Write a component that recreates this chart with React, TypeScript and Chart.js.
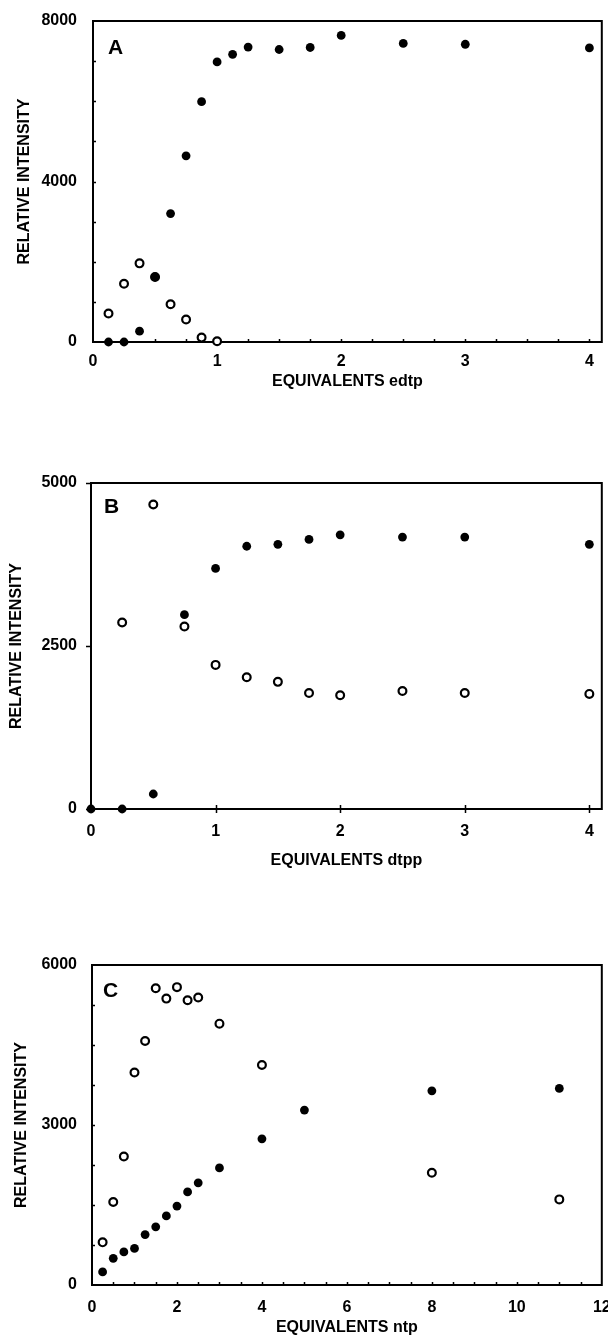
import React, { useEffect, useRef } from "react";
import { Chart, registerables } from "chart.js";

Chart.register(...registerables);

const FONT = '"Liberation Sans", Arial, Helvetica, sans-serif';

// ---------- Panel A (edtp) ----------
const aXTicks = [0, 1, 2, 3, 4];
const aYTicks = [0, 4000, 8000];
const aFilledX = [0.125, 0.25, 0.375, 0.5, 0.625, 0.75, 0.875, 1, 1.125, 1.25, 1.5, 1.75, 2, 2.5, 3, 4];
const aFilledY = [0, 0, 270, 1620, 3200, 4640, 5990, 6980, 7170, 7350, 7290, 7340, 7640, 7440, 7420, 7330];
const aOpenX = [0.125, 0.25, 0.375, 0.5, 0.625, 0.75, 0.875, 1];
const aOpenY = [710, 1450, 1960, 1620, 940, 560, 110, 20];

// ---------- Panel B (dtpp) ----------
const bXTicks = [0, 1, 2, 3, 4];
const bYTicks = [0, 2500, 5000];
const bFilledX = [0, 0.25, 0.5, 0.75, 1, 1.25, 1.5, 1.75, 2, 2.5, 3, 4];
const bFilledY = [0, 0, 230, 2980, 3690, 4030, 4060, 4135, 4205, 4170, 4170, 4060];
const bOpenX = [0.25, 0.5, 0.75, 1, 1.25, 1.5, 1.75, 2, 2.5, 3, 4];
const bOpenY = [2860, 4670, 2800, 2210, 2020, 1950, 1780, 1745, 1810, 1780, 1765];

// ---------- Panel C (ntp) ----------
const cXTicks = [0, 2, 4, 6, 8, 10, 12];
const cYTicks = [0, 3000, 6000];
const cFilledX = [0.25, 0.5, 0.75, 1, 1.25, 1.5, 1.75, 2, 2.25, 2.5, 3, 4, 5, 8, 11];
const cFilledY = [245, 500, 620, 685, 945, 1090, 1295, 1480, 1745, 1915, 2195, 2740, 3280, 3640, 3685];
const cOpenX = [0.25, 0.5, 0.75, 1, 1.25, 1.5, 1.75, 2, 2.25, 2.5, 3, 4, 8, 11];
const cOpenY = [800, 1555, 2410, 3985, 4575, 5565, 5370, 5585, 5340, 5390, 4900, 4125, 2105, 1605];

const Y_TITLE = "RELATIVE INTENSITY";

type Spec = {
  letter: string;
  top: number;
  height: number;
  padTop: number;
  padRight: number;
  yWidth: number;
  xHeight: number;
  xMax: number;
  yMax: number;
  xTicks: number[];
  yTicks: number[];
  xTitle: string;
  xLabelPad: number;
  xTitlePad: number;
  yLabelPad: number;
  yTitlePad: number;
  filledX: number[];
  filledY: number[];
  openX: number[];
  openY: number[];
  xStep: number;
  yStep: number;
  xMode: string;
  yMode: string;
  letterOff: [number, number];
};

const panels: Spec[] = [
  {
    letter: "A", top: 0, height: 400, padTop: 21, padRight: 3, yWidth: 93, xHeight: 58,
    xMax: 4.1, yMax: 8000, xTicks: aXTicks, yTicks: aYTicks, xTitle: "EQUIVALENTS edtp",
    xLabelPad: 10, xTitlePad: 9, yLabelPad: 16, yTitlePad: 15,
    filledX: aFilledX, filledY: aFilledY, openX: aOpenX, openY: aOpenY,
    xStep: 0.25, yStep: 1000, xMode: "in", yMode: "in", letterOff: [15, 33],
  },
  {
    letter: "B", top: 430, height: 450, padTop: 53, padRight: 2, yWidth: 91, xHeight: 71,
    xMax: 4.1, yMax: 5000, xTicks: bXTicks, yTicks: bYTicks, xTitle: "EQUIVALENTS dtpp",
    xLabelPad: 13, xTitlePad: 10, yLabelPad: 14, yTitlePad: 7,
    filledX: bFilledX, filledY: bFilledY, openX: bOpenX, openY: bOpenY,
    xStep: 1, yStep: 2500, xMode: "cross", yMode: "out", letterOff: [13, 30],
  },
  {
    letter: "C", top: 930, height: 407, padTop: 35, padRight: 5, yWidth: 92, xHeight: 52,
    xMax: 12, yMax: 6000, xTicks: cXTicks, yTicks: cYTicks, xTitle: "EQUIVALENTS ntp",
    xLabelPad: 13, xTitlePad: 0, yLabelPad: 15, yTitlePad: 12,
    filledX: cFilledX, filledY: cFilledY, openX: cOpenX, openY: cOpenY,
    xStep: 0.5, yStep: 750, xMode: "in", yMode: "in", letterOff: [11, 32],
  },
];

const framePlugin = {
  id: "frame",
  beforeDatasetsDraw(chart: any, _args: any, opts: any) {
    const { ctx, chartArea } = chart;
    const { left, right, top, bottom } = chartArea;
    const xs = chart.scales.x;
    const ys = chart.scales.y;
    ctx.save();
    ctx.strokeStyle = "#000";
    ctx.lineWidth = 2;
    ctx.strokeRect(left, top, right - left, bottom - top);
    ctx.lineWidth = 1.5;
    ctx.beginPath();
    for (let v = opts.xStep; v < xs.max - 1e-9; v += opts.xStep) {
      const px = Math.round(xs.getPixelForValue(v)) + 0.5;
      if (opts.xMode === "cross") {
        ctx.moveTo(px, bottom - 4);
        ctx.lineTo(px, bottom + 4);
      } else {
        ctx.moveTo(px, bottom);
        ctx.lineTo(px, bottom - 3);
      }
    }
    for (let v = 0; v <= ys.max + 1e-9; v += opts.yStep) {
      const py = Math.round(ys.getPixelForValue(v)) + 0.5;
      if (opts.yMode === "out") {
        ctx.moveTo(left, py);
        ctx.lineTo(left - 5, py);
      } else if (v > 0 && v < ys.max) {
        ctx.moveTo(left, py);
        ctx.lineTo(left + 3, py);
      }
    }
    ctx.stroke();
    ctx.fillStyle = "#000";
    ctx.font = `bold 21px ${FONT}`;
    ctx.textBaseline = "alphabetic";
    ctx.textAlign = "left";
    ctx.fillText(opts.letter, left + opts.letterOff[0], top + opts.letterOff[1]);
    ctx.restore();
  },
};

function Panel({ spec }: { spec: Spec }) {
  const ref = useRef<HTMLCanvasElement | null>(null);
  useEffect(() => {
    if (!ref.current) return;
    const filled = spec.filledX.map((x, i) => ({ x, y: spec.filledY[i] }));
    const open = spec.openX.map((x, i) => ({ x, y: spec.openY[i] }));
    const tickFont = { family: FONT, size: 16, weight: "bold" as const };
    const chart = new Chart(ref.current, {
      type: "scatter",
      data: {
        datasets: [
          {
            label: "filled",
            data: filled,
            order: 0,
            pointRadius: 4.4,
            pointBackgroundColor: "#000",
            pointBorderColor: "#000",
            pointBorderWidth: 0,
            clip: false as any,
          },
          {
            label: "open",
            data: open,
            order: 1,
            pointRadius: 3.9,
            pointBackgroundColor: "#fff",
            pointBorderColor: "#000",
            pointBorderWidth: 2.2,
            clip: false as any,
          },
        ],
      },
      options: {
        animation: false,
        responsive: false,
        maintainAspectRatio: false,
        events: [],
        layout: { padding: { top: spec.padTop, right: spec.padRight, left: 0, bottom: 0 } },
        plugins: {
          legend: { display: false },
          tooltip: { enabled: false },
          frame: {
            xStep: spec.xStep,
            yStep: spec.yStep,
            xMode: spec.xMode,
            yMode: spec.yMode,
            letter: spec.letter,
            letterOff: spec.letterOff,
          },
        } as any,
        scales: {
          x: {
            type: "linear",
            min: 0,
            max: spec.xMax,
            grid: { display: false, drawTicks: false },
            border: { display: false },
            afterBuildTicks: (s: any) => {
              s.ticks = spec.xTicks.map((v) => ({ value: v }));
            },
            afterFit: (s: any) => {
              s.height = spec.xHeight;
              s.paddingLeft = 0;
              s.paddingRight = 0;
            },
            ticks: {
              color: "#000",
              font: tickFont,
              padding: spec.xLabelPad,
              maxRotation: 0,
              autoSkip: false,
              callback: (v: any) => String(v),
            },
            title: {
              display: true,
              text: spec.xTitle,
              color: "#000",
              font: tickFont,
              padding: { top: 0, bottom: spec.xTitlePad },
            },
          },
          y: {
            type: "linear",
            min: 0,
            max: spec.yMax,
            grid: { display: false, drawTicks: false },
            border: { display: false },
            afterBuildTicks: (s: any) => {
              s.ticks = spec.yTicks.map((v) => ({ value: v }));
            },
            afterFit: (s: any) => {
              s.width = spec.yWidth;
              s.paddingTop = 0;
              s.paddingBottom = 0;
            },
            ticks: {
              color: "#000",
              font: tickFont,
              padding: spec.yLabelPad,
              autoSkip: false,
              callback: (v: any) => String(v),
            },
            title: {
              display: true,
              text: Y_TITLE,
              color: "#000",
              font: tickFont,
              padding: { top: spec.yTitlePad, bottom: 0 },
            },
          },
        },
      },
      plugins: [framePlugin as any],
    });
    return () => chart.destroy();
  }, [spec]);
  return (
    <div style={{ position: "absolute", left: 0, top: spec.top, width: 608, height: spec.height }}>
      <canvas ref={ref} width={608} height={spec.height} style={{ width: 608, height: spec.height, display: "block" }} />
    </div>
  );
}

export default function App() {
  useEffect(() => {
    document.body.style.margin = "0";
    document.body.style.background = "#fff";
  }, []);
  return (
    <div style={{ position: "relative", width: 608, height: 1337, background: "#fff" }}>
      {panels.map((p) => (
        <Panel key={p.letter} spec={p} />
      ))}
    </div>
  );
}
